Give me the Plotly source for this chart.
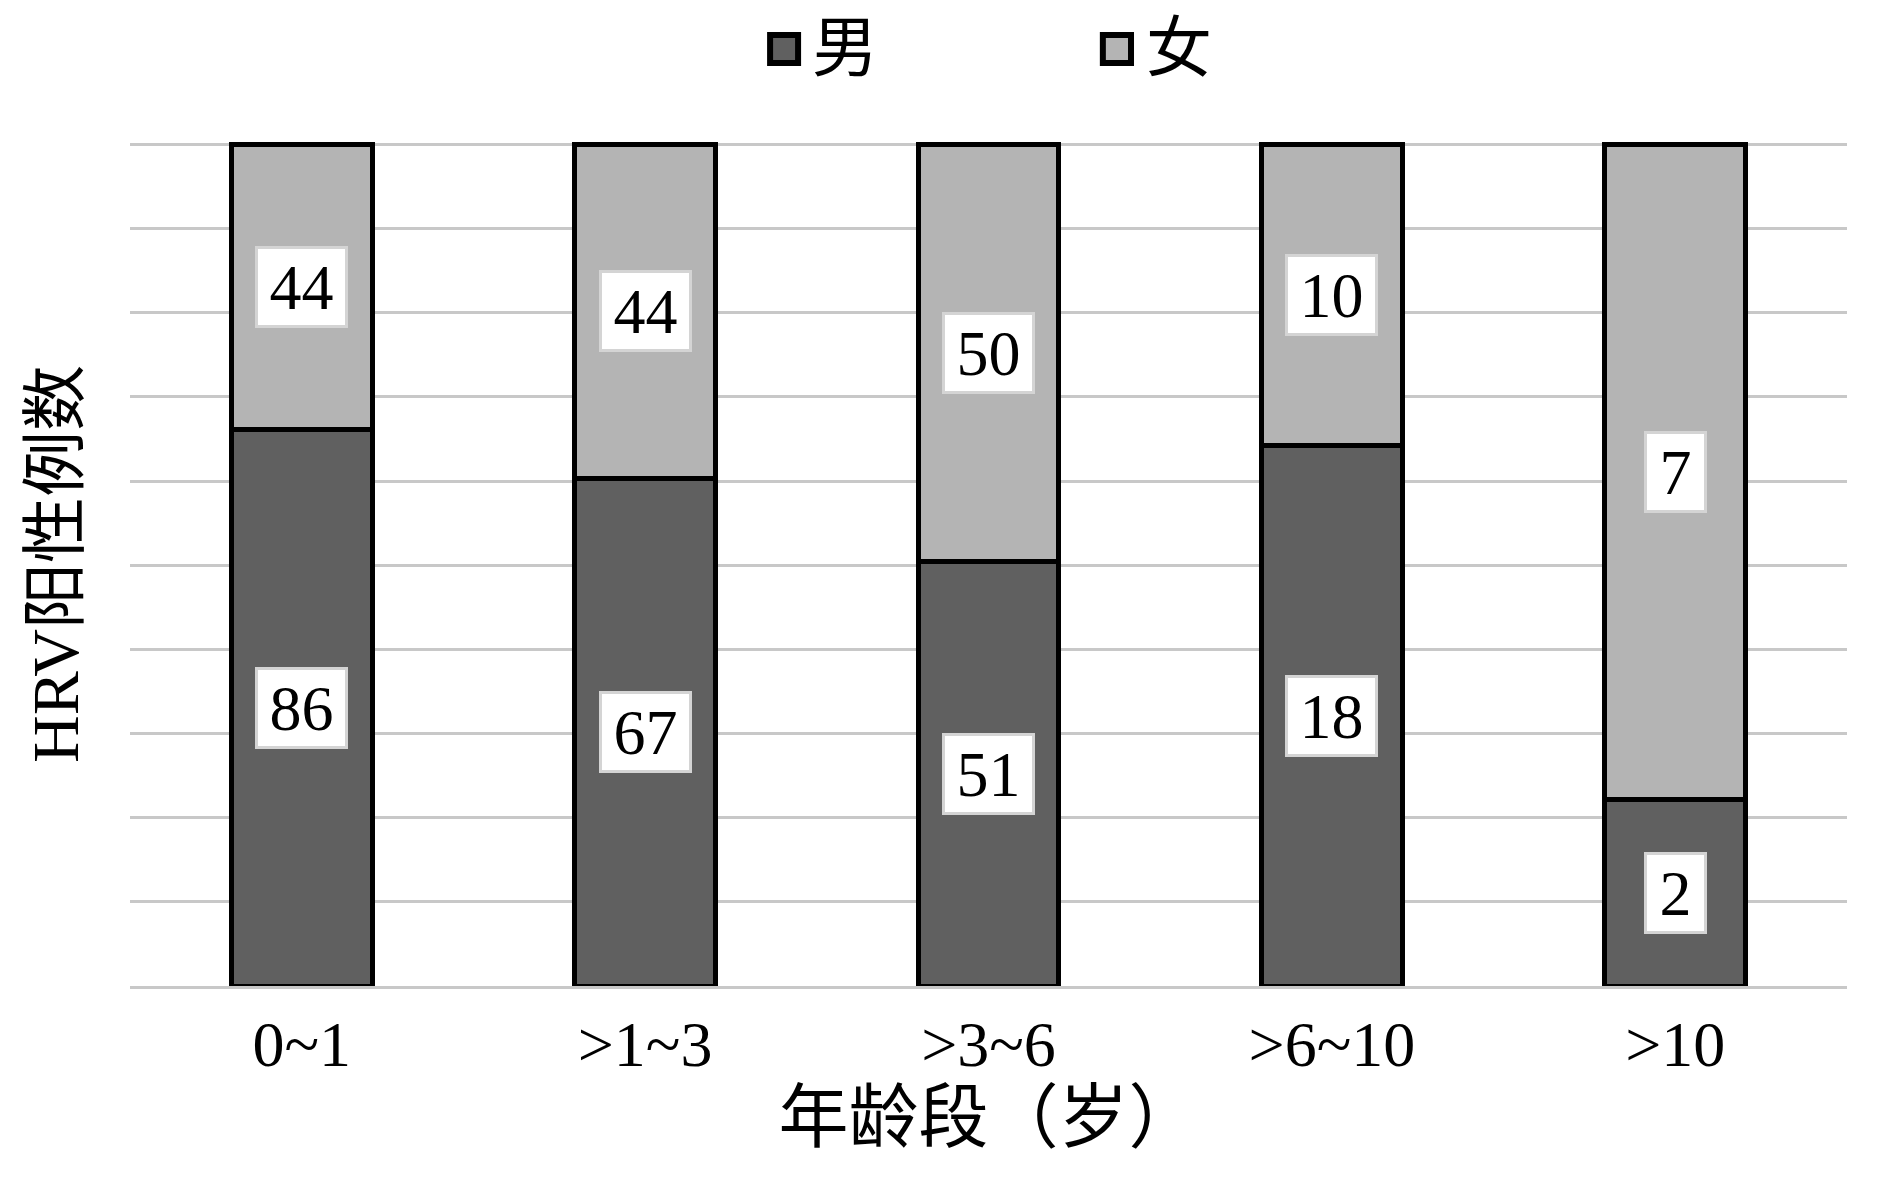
import plotly.graph_objects as go

categories = ["0~1", ">1~3", ">3~6", ">6~10", ">10"]
male = [86, 67, 51, 18, 2]
female = [44, 44, 50, 10, 7]
series_names = ["男", "女"]

FONT = "Liberation Serif, Times New Roman, Noto Sans CJK SC, serif"
DARK = "#606060"
LIGHT = "#b4b4b4"
colors = [DARK, LIGHT]

fig = go.Figure()
for vals, nm, col in zip([male, female], series_names, colors):
    fig.add_trace(go.Bar(x=categories, y=vals, name=nm, showlegend=False,
                         marker=dict(color=col, line=dict(color="black", width=5)),
                         width=0.41))

# labels in white boxes at segment centres
for c, m, f in zip(categories, male, female):
    tot = m + f
    pm = m / tot * 100
    pf = f / tot * 100
    for val, yc in ((m, pm / 2), (f, pm + pf / 2)):
        s = str(val)
        fig.add_annotation(x=c, y=yc, text=s, showarrow=False,
                           font=dict(family=FONT, size=64, color="black"),
                           width=30 * len(s) + 27, height=76,
                           bgcolor="white", bordercolor="#d4d4d4", borderwidth=3,
                           borderpad=0)

# custom legend (large square swatches like the reference)
legend_items = [(0.3728, 0.3891, 0.396), (0.5666, 0.5830, 0.5906)]
for (x0, x1, xt), nm, col in zip(legend_items, series_names, colors):
    fig.add_shape(type="rect", xref="paper", yref="paper", x0=x0, x1=x1,
                  y0=1.0936, y1=1.1268, fillcolor=col,
                  line=dict(color="black", width=6))
    fig.add_annotation(xref="paper", yref="paper", x=xt, y=1.111, text=nm,
                       showarrow=False, xanchor="left", yanchor="middle",
                       font=dict(family=FONT, size=66, color="black"))

fig.update_layout(
    barmode="stack", barnorm="percent",
    width=1890, height=1189,
    paper_bgcolor="white", plot_bgcolor="white",
    margin=dict(l=122, r=51, t=134, b=211),
    font=dict(family=FONT, size=60, color="black"),
    showlegend=False,
    xaxis=dict(title=dict(text="年龄段（岁）", font=dict(family=FONT, size=70), standoff=10),
               tickfont=dict(family=FONT, size=64), showgrid=False, automargin=False,
               showline=True, linecolor="#c8c8c8", linewidth=3, ticks=""),
    yaxis=dict(title=dict(text="HRV阳性例数", font=dict(family=FONT, size=66), standoff=28),
               range=[0, 100.3], tickvals=[0, 10, 20, 30, 40, 50, 60, 70, 80, 90, 100],
               showticklabels=False, automargin=False,
               showgrid=True, gridcolor="#c8c8c8", gridwidth=3, zeroline=False, ticks=""),
)

fig.write_html("out.html")
